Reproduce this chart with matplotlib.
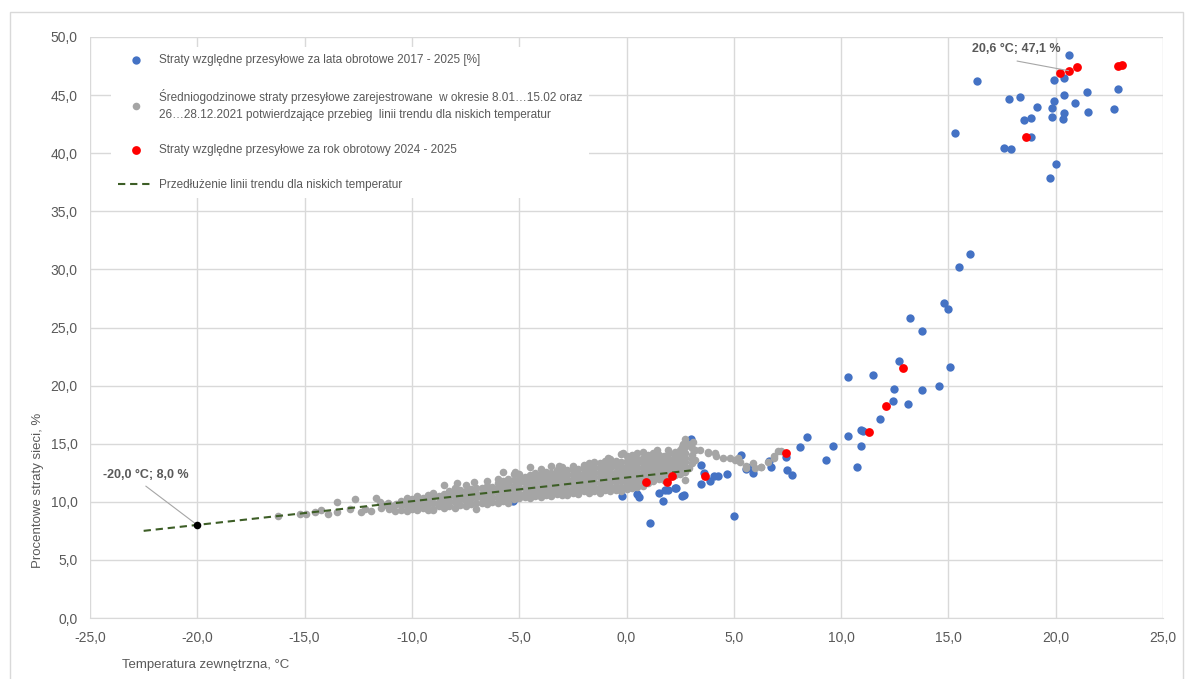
import matplotlib
matplotlib.use('Agg')
import matplotlib.pyplot as plt
from matplotlib.lines import Line2D
from matplotlib.patches import Rectangle

plt.rcParams['font.family'] = ['Liberation Sans', 'DejaVu Sans']
plt.rcParams['axes.unicode_minus'] = False

# ---------------- data ----------------
blue_x = [20.63, 16.31, 19.92, 20.41, 22.92, 17.81, 18.32, 20.41, 21.45, 19.92, 20.92, 19.13, 19.81,
          21.51, 22.70, 18.83, 18.51, 19.84, 20.38, 20.32, 15.31, 18.86, 17.60, 17.93, 20.01, 19.72,
          16.00, 15.49, 14.78, 15.00, 13.20, 13.79, 12.69, 15.07, 10.32, 11.50, 12.46, 13.77, 14.55,
          12.40, 13.12, 11.81, 10.92, 11.03, 10.31, 10.91, 10.72, 9.29, 9.62, 8.40, 8.09,
          2.99, 3.47, 3.62, 3.48, 3.91, 4.10, 4.27, 4.67, 5.00, 5.32, 5.57, 5.90, 5.80, 6.72, 6.62,
          7.41, 7.50, 7.72, 1.10, -0.22, 0.51, 0.60, 1.52, 1.72, 1.95, 2.31, 2.59, 2.67, 1.80,
          -5.28, -1.30, -2.26, 2.26]
blue_y = [48.45, 46.24, 46.30, 46.45, 45.52, 44.64, 44.86, 45.00, 45.29, 44.49, 44.35, 43.95, 43.92,
          43.57, 43.80, 43.03, 42.86, 43.09, 43.43, 42.97, 41.74, 41.42, 40.47, 40.34, 39.04, 37.89,
          31.30, 30.18, 27.13, 26.59, 25.84, 24.70, 22.14, 21.60, 20.71, 20.94, 19.68, 19.65, 19.94,
          18.67, 18.44, 17.15, 16.18, 16.12, 15.69, 14.78, 13.02, 13.57, 14.83, 15.55, 14.69,
          15.40, 13.19, 12.45, 11.50, 11.76, 12.22, 12.25, 12.37, 8.80, 14.05, 12.80, 12.51, 13.00, 13.00, 13.51,
          13.86, 12.76, 12.33, 8.15, 10.53, 10.70, 10.39, 10.73, 10.10, 10.99, 11.21, 10.47, 10.60, 11.00,
          10.07, 11.00, 11.25, 11.16]

red_x = [20.21, 20.60, 21.00, 22.92, 23.11, 18.60, 12.89, 12.09, 11.28, 7.41, 0.90, 1.90, 2.10, 3.68]
red_y = [46.93, 47.10, 47.42, 47.50, 47.56, 41.37, 21.54, 18.24, 15.98, 14.17, 11.73, 11.73, 12.22, 12.25]

# hourly losses (grey cloud), read column by column: (temperature, [losses...])
gray_columns = [
    (-16.23, [8.80]), (-15.23, [8.95]), (-14.92, [8.95]), (-14.53, [9.10]), (-14.25, [9.27]),
    (-13.90, [8.98]), (-13.50, [9.98, 9.12]), (-12.90, [9.38]), (-12.63, [10.24]),
    (-12.36, [9.10]), (-12.20, [9.40]), (-11.90, [9.23]), (-11.67, [10.36]), (-11.50, [10.00]),
    (-11.45, [9.50]), (-11.30, [9.70]), (-11.13, [9.87]), (-11.05, [9.40]), (-10.90, [9.60]),
    (-10.80, [9.20]), (-10.75, [9.80]),
    (-10.50, [9.3, 9.7, 10.1]),
    (-10.25, [9.2, 9.6, 9.9, 10.3]),
    (-10.00, [9.4, 9.8, 10.2]),
    (-9.75, [9.3, 9.7, 10.0, 10.5]),
    (-9.50, [9.5, 9.9, 10.3]),
    (-9.25, [9.3, 9.8, 10.2, 10.6]),
    (-9.00, [9.3, 9.4, 9.9, 10.4, 10.8]),
    (-8.75, [9.6, 10.0, 10.5]),
    (-8.50, [9.5, 9.9, 10.3, 10.7, 11.45]),
    (-8.25, [9.6, 10.1, 10.5, 10.9]),
    (-8.00, [9.5, 10.0, 10.4, 10.8, 11.2]),
    (-7.90, [11.6]),
    (-7.75, [9.7, 10.2, 10.6, 11.0]),
    (-7.50, [9.6, 10.1, 10.5, 10.9, 11.45]),
    (-7.25, [9.8, 10.3, 10.7, 11.1]),
    (-7.10, [11.73]),
    (-7.00, [9.4, 9.9, 10.4, 10.8, 11.2]),
    (-6.75, [9.9, 10.3, 10.7, 11.2]),
    (-6.50, [9.8, 10.2, 10.6, 11.0, 11.4, 11.8]),
    (-6.25, [10.0, 10.4, 10.9, 11.3]),
    (-6.00, [9.9, 10.3, 10.8, 11.2, 11.6, 12.0]),
    (-5.75, [10.1, 10.5, 10.9, 11.4, 11.8, 12.6]),
    (-5.50, [9.9, 10.3, 10.7, 11.1, 11.6, 12.0]),
    (-5.25, [10.2, 10.6, 11.0, 11.4, 11.9, 12.4]),
    (-5.20, [12.6]),
    (-5.00, [10.3, 10.7, 11.2, 11.6, 12.0, 12.4]),
    (-4.75, [10.4, 10.8, 11.2, 11.7, 12.1]),
    (-4.50, [10.3, 10.7, 11.1, 11.5, 11.9, 12.3, 12.97]),
    (-4.25, [10.5, 10.9, 11.3, 11.7, 12.1, 12.5]),
    (-4.00, [10.4, 10.8, 11.2, 11.6, 12.0, 12.4, 12.8]),
    (-3.75, [10.6, 11.0, 11.4, 11.9, 12.3, 12.6]),
    (-3.50, [10.5, 10.9, 11.3, 11.7, 12.1, 12.5, 13.08]),
    (-3.25, [10.7, 11.1, 11.5, 11.9, 12.3, 12.7]),
    (-3.13, [13.08]),
    (-3.00, [10.6, 11.0, 11.4, 11.8, 12.2, 12.6, 13.0]),
    (-2.75, [10.6, 11.0, 11.5, 11.9, 12.3, 12.7]),
    (-2.50, [10.8, 11.2, 11.6, 12.0, 12.4, 12.8, 13.1]),
    (-2.25, [10.7, 11.1, 11.5, 12.0, 12.4, 12.8]),
    (-2.00, [10.9, 11.3, 11.7, 12.1, 12.5, 12.9, 13.2]),
    (-1.75, [10.8, 11.2, 11.6, 12.0, 12.4, 12.8, 13.31]),
    (-1.50, [10.9, 11.3, 11.7, 12.1, 12.6, 13.0, 13.4]),
    (-1.25, [10.8, 11.2, 11.6, 12.1, 12.5, 12.9, 13.3]),
    (-1.00, [11.0, 11.4, 11.8, 12.2, 12.6, 13.0, 13.5]),
    (-0.84, [13.74]),
    (-0.75, [10.9, 11.3, 11.7, 12.1, 12.5, 12.9, 13.3, 13.7]),
    (-0.50, [11.0, 11.4, 11.8, 12.2, 12.6, 13.1, 13.5]),
    (-0.25, [10.9, 11.3, 11.8, 12.2, 12.6, 13.0, 13.4, 14.1]),
    (-0.15, [14.17]),
    (0.00, [11.1, 11.5, 11.9, 12.3, 12.7, 13.1, 13.5, 13.9]),
    (0.25, [11.2, 11.6, 12.0, 12.4, 12.8, 13.2, 13.6, 14.0]),
    (0.50, [11.3, 11.7, 12.1, 12.5, 12.9, 13.3, 13.7, 14.2]),
    (0.75, [11.4, 11.8, 12.2, 12.6, 13.0, 13.4, 13.8, 14.3]),
    (1.00, [11.6, 12.0, 12.4, 12.8, 13.2, 13.6, 14.0]),
    (1.25, [11.8, 12.2, 12.6, 13.0, 13.4, 13.8, 14.2]),
    (1.41, [14.46]),
    (1.50, [12.0, 12.4, 12.8, 13.2, 13.6, 14.0]),
    (1.75, [11.9, 12.3, 12.7, 13.1, 13.5, 13.9]),
    (1.95, [14.46]),
    (2.00, [12.1, 12.5, 12.9, 13.3, 13.7, 14.2]),
    (2.25, [12.3, 12.7, 13.1, 13.5, 13.9, 14.3]),
    (2.50, [12.4, 12.8, 13.2, 13.6, 14.0, 14.5]),
    (2.57, [14.74]),
    (2.65, [14.95]),
    (2.72, [11.9, 12.6, 13.0, 13.4, 13.8, 14.2, 14.7, 15.38]),
    (2.85, [15.0]),
    (2.91, [12.88]),
    (3.03, [13.3, 13.7, 14.0, 14.6]),
    (3.11, [15.17]),
    (3.20, [13.6, 14.5]),
    (3.42, [14.46]), (3.81, [14.2, 14.3]), (4.12, [14.17]), (4.19, [13.9]), (4.50, [13.8]),
    (4.81, [13.74]), (5.04, [13.6]), (5.20, [13.74]), (5.30, [13.4]), (5.59, [13.08, 12.9]),
    (5.90, [13.37]), (5.97, [12.88]), (6.28, [12.96, 13.0]), (6.59, [13.45]),
    (6.87, [13.8, 13.94]), (7.06, [14.4]), (7.18, [14.37]),
]

trend_x = [-22.5, 3.0]
trend_y = [7.5, 12.7]

mark_x = [-20.0]
mark_y = [8.0]

x_ticks = [-25, -20, -15, -10, -5, 0, 5, 10, 15, 20, 25]
y_ticks = [0, 5, 10, 15, 20, 25, 30, 35, 40, 45, 50]

legend_labels = [
    "Straty względne przesyłowe za lata obrotowe 2017 - 2025 [%]",
    "Średniogodzinowe straty przesyłowe zarejestrowane  w okresie 8.01…15.02 oraz\n"
    "26…28.12.2021 potwierdzające przebieg  linii trendu dla niskich temperatur",
    "Straty względne przesyłowe za rok obrotowy 2024 - 2025",
    "Przedłużenie linii trendu dla niskich temperatur",
]

# ---------------- figure ----------------
W, H = 1192, 679
fig = plt.figure(figsize=(W / 100, H / 100), dpi=100)
fig.patch.set_facecolor('white')
fig.patches.append(Rectangle((10 / W, -0.02), (1183 - 10) / W, (H - 12) / H + 0.02,
                             transform=fig.transFigure, fill=False,
                             ec='#D9D9D9', lw=1.0))

ax = fig.add_axes([90 / W, (H - 618) / H, 1073 / W, 581 / H])
ax.set_xlim(-25, 25)
ax.set_ylim(0, 50)

TXT = '#595959'

def fmt(v):
    return f"{v:.1f}".replace('.', ',')

ax.set_xticks(x_ticks)
ax.set_xticklabels([fmt(v) for v in x_ticks])
ax.set_yticks(y_ticks)
ax.set_yticklabels([fmt(v) for v in y_ticks])
ax.tick_params(length=0, colors=TXT, labelsize=10)
ax.tick_params(axis='y', pad=9)
ax.tick_params(axis='x', pad=9)
ax.grid(True, color='#D9D9D9', lw=1.0)
ax.set_axisbelow(True)
for s in ax.spines.values():
    s.set_visible(False)
ax.spines['bottom'].set_visible(True)
ax.spines['bottom'].set_color('#D9D9D9')

gray_x = [x for x, ys in gray_columns for _ in ys]
gray_y = [y for _, ys in gray_columns for y in ys]

sb = ax.scatter(blue_x, blue_y, s=36, color='#4472C4', linewidths=0, zorder=2)
sg = ax.scatter(gray_x, gray_y, s=30, color='#A5A5A5', linewidths=0, zorder=3)
ln, = ax.plot(trend_x, trend_y, color='#3D5E26', lw=1.5, dashes=(3.5, 2.3), zorder=4)
sr = ax.scatter(red_x, red_y, s=40, color='#FF0000', linewidths=0, zorder=5)
ax.scatter(mark_x, mark_y, s=30, color='black', linewidths=0, zorder=6)

# annotations
ax.annotate('', xy=(mark_x[0], mark_y[0]), xytext=(-22.4, 11.35),
            arrowprops=dict(arrowstyle='-', color='#A6A6A6', lw=0.8, shrinkA=0, shrinkB=0), zorder=5)
ax.text(-24.4, 12.3, '-20,0 °C; 8,0 %', color=TXT, fontsize=9, fontweight='bold',
        ha='left', va='center', zorder=7)
ax.annotate('', xy=(red_x[1], red_y[1]), xytext=(18.2, 47.93),
            arrowprops=dict(arrowstyle='-', color='#A6A6A6', lw=0.8, shrinkA=0, shrinkB=0), zorder=6)
ax.text(16.1, 48.97, '20,6 °C; 47,1 %', color=TXT, fontsize=9, fontweight='bold',
        ha='left', va='center', zorder=7)

# legend
leg = ax.legend([sb, sg, sr, Line2D([0], [0], color='#3D5E26', lw=1.5, dashes=(3.5, 2.3))],
                legend_labels, loc='upper left', bbox_to_anchor=(21 / 1073, 1 - 10 / 581),
                borderaxespad=0, fontsize=8.5, labelspacing=1.98, handlelength=3.0,
                handletextpad=0.45, borderpad=0.6, frameon=True, fancybox=False,
                framealpha=1, facecolor='white', edgecolor='none', scatterpoints=1)
for t in leg.get_texts():
    t.set_color(TXT)
    t.set_linespacing(1.45)
leg.set_zorder(10)

# axis titles
fig.text(122 / W, 1 - 665 / H, 'Temperatura zewnętrzna, °C', color=TXT, fontsize=9.5,
         ha='left', va='center')
fig.text(38 / W, 1 - 490 / H, 'Procentowe straty sieci, %', color=TXT, fontsize=9.5,
         ha='center', va='center', rotation=90)

fig.savefig('out.png', dpi=100)
